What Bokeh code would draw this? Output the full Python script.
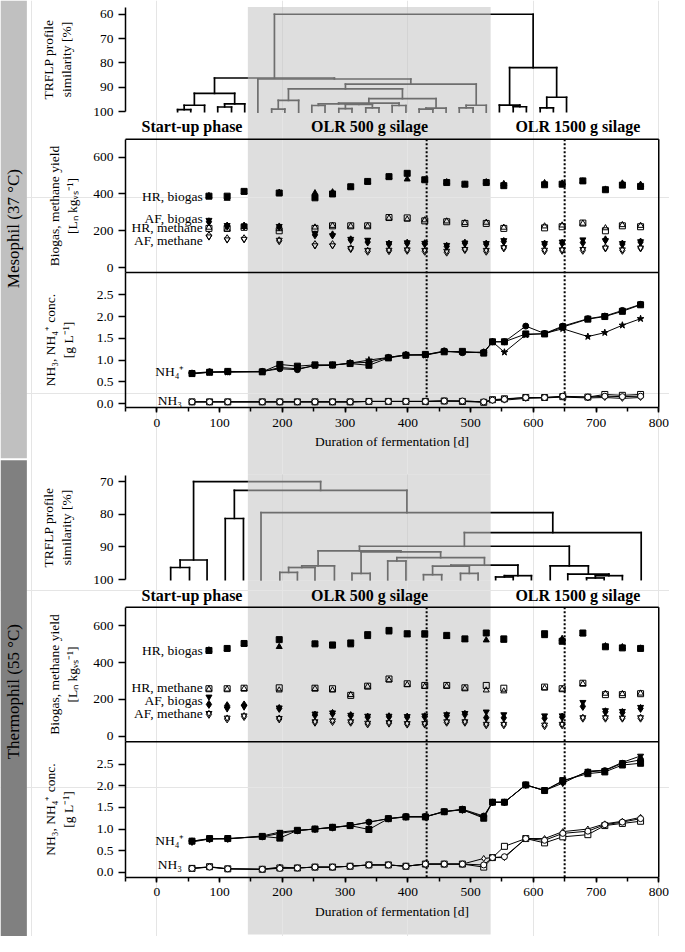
import math
from bokeh.plotting import figure
from bokeh.models import (Range1d, LinearAxis, FixedTicker, SingleIntervalTicker,
                          NumeralTickFormatter)
from bokeh.embed import file_html
from bokeh.resources import INLINE
from bokeh.core.properties import value

# ---------------------------------------------------------------- data
gas_days = [83, 112, 139, 195, 252, 280, 309, 336, 370, 399, 427, 462, 491, 525,
            553, 618, 646, 679, 715, 742, 771]

meso_hr_biogas_a = [388, 388, 414, 405, 379, 400, 439, 468, 494, 512, 477, 462, 453, 462, 445, 450, 453, 471, 423, 448, 441]
meso_hr_biogas_b = [390, 375, 410, 408, 405, 410, 437, 466, 492, 480, 475, 465, 452, 465, 455, 460, 458, 469, 425, 458, 451]
meso_hr_methane_a = [213, 213, 219, 200, 213, 227, 227, 227, 272, 270, 254, 249, 240, 240, 213, 216, 222, 242, 200, 227, 222]
meso_hr_methane_b = [218, 208, 222, 210, 219, 228, 225, 225, 268, 262, 258, 252, 243, 245, 218, 225, 230, 240, 215, 232, 228]
meso_af_biogas_a = [249, 226, 226, 221, 178, 178, 151, 139, 128, 133, 130, 116, 133, 128, 142, 128, 133, 136, 151, 128, 139]
meso_af_biogas_b = [258, 230, 228, 225, 185, 175, 155, 150, 132, 136, 133, 122, 135, 132, 148, 132, 140, 152, 148, 132, 142]
meso_af_methane_a = [173, 157, 157, 146, 125, 125, 103, 89, 92, 94, 89, 84, 98, 89, 107, 92, 94, 94, 107, 94, 107]
meso_af_methane_b = [168, 152, 155, 150, 120, 120, 105, 95, 96, 98, 95, 90, 100, 95, 110, 96, 98, 100, 108, 98, 108]

thermo_hr_biogas_a = [466, 477, 504, 525, 502, 496, 507, 552, 575, 557, 557, 548, 529, 561, 529, 557, 516, 561, 486, 480, 477]
thermo_hr_biogas_b = [468, 475, 500, 486, 500, 489, 495, 540, 565, 550, 548, 540, 525, 522, 520, 545, 530, 555, 490, 485, 478]
thermo_hr_methane_a = [258, 258, 261, 263, 261, 258, 222, 272, 311, 285, 276, 276, 263, 276, 261, 267, 258, 288, 226, 226, 231]
thermo_hr_methane_b = [255, 255, 258, 250, 258, 250, 225, 270, 305, 280, 270, 272, 260, 250, 245, 262, 255, 285, 232, 230, 233]
thermo_af_biogas_a = [173, 166, 170, 151, 115, 124, 112, 104, 106, 104, 106, 112, 119, 101, 100, 98, 104, 162, 133, 129, 151]
thermo_af_biogas_b = [214, 150, 160, 155, 122, 128, 115, 110, 110, 108, 112, 118, 125, 133, 118, 112, 112, 185, 140, 136, 158]
thermo_af_methane_a = [119, 94, 107, 94, 76, 80, 76, 67, 71, 66, 66, 76, 76, 62, 62, 57, 62, 98, 98, 98, 98]
thermo_af_methane_b = [125, 100, 112, 98, 80, 85, 80, 72, 75, 70, 70, 80, 80, 66, 66, 62, 66, 102, 102, 100, 102]

nh_days = [56, 84, 113, 168, 196, 224, 252, 280, 308, 338, 369, 397, 428, 458, 487,
           521, 535, 554, 588, 618, 647, 687, 714, 742, 771]

meso_nh4_r1 = [0.70, 0.73, 0.73, 0.74, 0.80, 0.78, 0.88, 0.88, 0.93, 0.95, 1.06, 1.12, 1.12, 1.21, 1.17, 1.18, 1.42, 1.42, 1.78, 1.61, 1.78, 1.95, 2.01, 2.14, 2.28]
meso_nh4_r2 = [0.69, 0.72, 0.74, 0.73, 0.90, 0.86, 0.89, 0.89, 0.92, 0.88, 1.05, 1.11, 1.13, 1.19, 1.20, 1.16, 1.42, 1.42, 1.60, 1.60, 1.76, 1.94, 2.00, 2.12, 2.27]
meso_nh4_r3 = [0.68, 0.72, 0.72, 0.73, 0.83, 0.80, 0.87, 0.88, 0.93, 1.00, 1.06, 1.12, 1.11, 1.20, 1.18, 1.18, 1.42, 1.18, 1.58, 1.61, 1.72, 1.54, 1.63, 1.80, 1.95]
meso_nh3_r1 = [0.04, 0.04, 0.04, 0.04, 0.04, 0.04, 0.04, 0.04, 0.04, 0.05, 0.05, 0.05, 0.05, 0.06, 0.06, 0.04, 0.08, 0.10, 0.14, 0.14, 0.17, 0.15, 0.17, 0.16, 0.17]
meso_nh3_r2 = [0.04, 0.04, 0.04, 0.04, 0.04, 0.04, 0.04, 0.04, 0.04, 0.05, 0.05, 0.05, 0.05, 0.06, 0.05, 0.03, 0.09, 0.11, 0.14, 0.14, 0.16, 0.15, 0.21, 0.19, 0.21]
meso_nh3_r3 = [0.04, 0.04, 0.04, 0.04, 0.04, 0.04, 0.04, 0.04, 0.04, 0.05, 0.05, 0.05, 0.05, 0.06, 0.06, 0.04, 0.07, 0.08, 0.12, 0.13, 0.15, 0.13, 0.14, 0.12, 0.14]

thermo_nh4_r1 = [0.72, 0.78, 0.78, 0.83, 0.79, 0.97, 1.00, 1.04, 1.08, 0.99, 1.24, 1.28, 1.28, 1.40, 1.45, 1.25, 1.62, 1.62, 2.02, 1.89, 2.12, 2.28, 2.32, 2.48, 2.52]
thermo_nh4_r2 = [0.72, 0.77, 0.78, 0.82, 0.90, 0.96, 1.00, 1.04, 1.08, 1.16, 1.24, 1.29, 1.29, 1.40, 1.46, 1.30, 1.62, 1.62, 2.02, 1.89, 2.10, 2.32, 2.35, 2.52, 2.60]
thermo_nh4_r3 = [0.70, 0.77, 0.77, 0.84, 0.93, 0.97, 1.00, 1.03, 1.08, 1.16, 1.24, 1.28, 1.28, 1.41, 1.44, 1.28, 1.62, 1.62, 2.02, 1.89, 2.06, 2.34, 2.36, 2.54, 2.69]
thermo_nh3_r1 = [0.09, 0.13, 0.08, 0.07, 0.10, 0.10, 0.12, 0.12, 0.14, 0.17, 0.17, 0.14, 0.19, 0.19, 0.19, 0.12, 0.34, 0.60, 0.78, 0.68, 0.82, 0.87, 1.08, 1.13, 1.18]
thermo_nh3_r2 = [0.09, 0.12, 0.08, 0.07, 0.09, 0.10, 0.12, 0.12, 0.14, 0.17, 0.17, 0.14, 0.19, 0.19, 0.19, 0.17, 0.34, 0.36, 0.78, 0.74, 0.90, 0.95, 1.10, 1.16, 1.24]
thermo_nh3_r3 = [0.09, 0.12, 0.08, 0.07, 0.12, 0.10, 0.12, 0.12, 0.14, 0.17, 0.17, 0.14, 0.19, 0.19, 0.19, 0.32, 0.34, 0.34, 0.78, 0.78, 0.94, 1.00, 1.12, 1.18, 1.27]

# dendrograms: leaf positions [d] and merges (child a, child b, similarity %)
meso_leaves = [33, 54, 76, 97, 119, 140, 161, 183, 204, 226, 247, 268, 290, 311, 333,
               354, 375, 397, 418, 440, 461, 482, 504, 525, 546, 568, 589, 611, 632, 653]
meso_merge_a = [0, 30, 3, 32, 31, 7, 35, 10, 12, 14, 16, 38, 37, 42, 18, 44, 43, 36, 21, 48, 47, 6, 34, 25, 24, 27, 55, 54, 52]
meso_merge_b = [1, 2, 4, 5, 33, 8, 9, 11, 13, 15, 17, 39, 41, 40, 19, 20, 45, 46, 22, 23, 49, 50, 51, 26, 53, 28, 29, 56, 57]
meso_merge_h = [99.2, 97.4, 98.1, 96.8, 92.5, 99.0, 95.4, 97.5, 98.8, 98.5, 97.5, 97.0, 96.8, 96.5,
                99.0, 98.6, 94.7, 90.7, 98.5, 97.4, 88.7, 86.6, 86.2, 98.0, 97.3, 98.5, 94.1, 81.9, 60.0]

thermo_leaves = [22, 52, 80, 109, 138, 166, 196, 224, 252, 283, 311, 340, 368, 397, 425,
                 454, 484, 512, 540, 568, 597, 627, 655, 685, 713, 742, 772]
thermo_merge_a = [0, 27, 3, 6, 30, 31, 10, 12, 14, 16, 35, 18, 38, 37, 34, 33, 32, 23, 44, 22, 21, 43, 48, 5, 29, 28]
thermo_merge_b = [1, 2, 4, 7, 8, 9, 11, 13, 15, 17, 36, 19, 20, 39, 40, 41, 42, 24, 25, 45, 46, 47, 26, 49, 50, 51]
thermo_merge_h = [96.3, 94.0, 81.3, 97.8, 96.3, 95.8, 98.1, 94.3, 98.5, 98.1, 95.9, 99.2, 98.8, 95.6,
                  93.3, 91.5, 91.2, 99.5, 98.8, 98.3, 95.8, 89.8, 85.6, 79.5, 72.7, 70.0]

phase_labels = ["Start-up phase", "OLR 500 g silage", "OLR 1500 g silage"]
phase_x = [56, 339, 671]
olr500_period = (145, 532)
marker_days = [430, 650]
series_names = ["HR, biogas", "HR, methane", "AF, biogas", "AF, methane"]

# ---------------------------------------------------------------- layout
REF_W, REF_H = 685, 952
W, H = 669, 936
FONT = "Liberation Serif"


def lin(p1, v1, p2, v2):
    k = (v2 - v1) / (p2 - p1)
    return lambda q: v1 + (q - p1) * k


fx = lin(128, -50, 674, 800)
X0, X1 = -50, 800

pan = {
    "dm": lin(14, 60, 113, 100),
    "gm": lin(271.7, 0, 159.3, 600),
    "nm": lin(410, 0, 299.3, 2.5),
    "dt": lin(489.3, 70, 589, 100),
    "gt": lin(748.3, 0, 636, 600),
    "nt": lin(886.7, 0, 776.7, 2.5),
}

p = figure(width=W, height=H, x_range=Range1d(fx(0), fx(REF_W)), y_range=Range1d(REF_H, 0),
           output_backend="svg", toolbar_location=None, min_border=0,
           x_axis_location=None, y_axis_location=None, title_location=None,
           outline_line_color=None)
p.extra_y_ranges = {k: Range1d(f(REF_H), f(0)) for k, f in pan.items()}
p.extra_x_ranges = {"page": Range1d(0, REF_W)}
p.background_fill_color = "white"
p.border_fill_color = "white"

SHADE = "#dedede"
# side bands
p.quad(left=[0, 0], right=[27, 27], top=[0, 467.5], bottom=[465.5, 952], x_range_name="page",
       fill_color=["#c0c0c0", "#808080"], line_color=None)
p.text(x=[13.5, 13.5], y=[232, 703], text=["Mesophil (37 °C)", "Thermophil (55 °C)"],
       x_range_name="page", angle=math.pi / 2, text_align="center", text_baseline="middle",
       text_font=value(FONT), text_font_size="17px", text_color="black")

# shaded OLR-500 period (under the data panels, over the dendrograms)
s0, s1 = olr500_period
p.quad(left=[s0, s0], right=[s1, s1], top=[113.5, 590], bottom=[482, 950],
       fill_color=SHADE, line_color=None, level="underlay")


def dendro(leaves, ma, mb, mh, rname):
    xs = list(leaves)
    hs = [100.0] * len(leaves)
    x0, y0, x1, y1 = [], [], [], []
    for a, b, h in zip(ma, mb, mh):
        for c in (a, b):
            x0.append(xs[c]); y0.append(hs[c]); x1.append(xs[c]); y1.append(h)
        x0.append(xs[a]); y0.append(h); x1.append(xs[b]); y1.append(h)
        xs.append((xs[a] + xs[b]) / 2)
        hs.append(h)
    p.segment(x0=x0, y0=y0, x1=x1, y1=y1, y_range_name=rname, line_color="black",
              line_width=1.7, line_cap="square")


dendro(meso_leaves, meso_merge_a, meso_merge_b, meso_merge_h, "dm")
dendro(thermo_leaves, thermo_merge_a, thermo_merge_b, thermo_merge_h, "dt")

p.quad(left=[s0, s0], right=[s1, s1], top=[6.5, 482], bottom=[113.5, 590],
       fill_color="#c4c4c4", fill_alpha=0.56, line_color=None, level="overlay")

for rname, f, ytxt in (("dm", pan["dm"], 128), ("dt", pan["dt"], 605)):
    p.text(x=phase_x, y=[f(ytxt)] * 3, text=phase_labels, y_range_name=rname,
           text_align="center", text_baseline="middle", text_font=value(FONT),
           text_font_size="16px", text_font_style="bold", text_color="black")

# frames of the data panels
for top, div, bot in ((141, 276.7, 414), (617, 754, 891.7)):
    p.segment(x0=[X0, X0, X1], y0=[top, div, top], x1=[X1, X1, X1], y1=[top, div, bot],
              line_color="black", line_width=1.5)
    p.segment(x0=marker_days, y0=[top] * 2, x1=marker_days, y1=[bot] * 2,
              line_color="black", line_width=2, line_dash="2 2")


def gas_panel(rname, hr_b, hr_m, af_b, af_m, label_vals):
    kw = dict(y_range_name=rname, size=6, line_color="black")
    p.scatter(gas_days, hr_b[1], marker="triangle", fill_color="black", **kw)
    p.scatter(gas_days, hr_b[0], marker="square", fill_color="black", **kw)
    p.scatter(gas_days, hr_m[0], marker="square", fill_color=None, **kw)
    p.scatter(gas_days, hr_m[1], marker="triangle", fill_color=None, **kw)
    p.scatter(gas_days, af_b[1], marker="inverted_triangle", fill_color="black", **kw)
    p.scatter(gas_days, af_b[0], marker="diamond", fill_color="black", size=8,
              y_range_name=rname, line_color="black")
    p.scatter(gas_days, af_m[0], marker="diamond", fill_color=None, size=8,
              y_range_name=rname, line_color="black")
    p.scatter(gas_days, af_m[1], marker="inverted_triangle", fill_color=None, **kw)
    p.text(x=[73] * 4, y=label_vals, text=series_names, y_range_name=rname,
           text_align="right", text_baseline="middle", text_font=value(FONT),
           text_font_size="13.5px", text_color="black")


gas_panel("gm", (meso_hr_biogas_a, meso_hr_biogas_b), (meso_hr_methane_a, meso_hr_methane_b),
          (meso_af_biogas_a, meso_af_biogas_b), (meso_af_methane_a, meso_af_methane_b),
          [388, 218, 268, 145])
gas_panel("gt", (thermo_hr_biogas_a, thermo_hr_biogas_b), (thermo_hr_methane_a, thermo_hr_methane_b),
          (thermo_af_biogas_a, thermo_af_biogas_b), (thermo_af_methane_a, thermo_af_methane_b),
          [466, 263, 192, 124])


def nh_panel(rname, nh4, nh3, markers3, markers4, lab_y):
    # series are given in drawing order: the last one ends up on top
    for vals, m in zip(nh3, markers3):
        p.line(nh_days, vals, y_range_name=rname, line_color="black", line_width=1)
        p.scatter(nh_days, vals, marker=m, size=6, y_range_name=rname,
                  line_color="black", fill_color="white")
    for vals, m in zip(nh4, markers4):
        p.line(nh_days, vals, y_range_name=rname, line_color="black", line_width=1)
        p.scatter(nh_days, vals, marker=m, size=7 if m == "star" else 6, y_range_name=rname,
                  line_color="black", fill_color="black")
    p.text(x=[44, 40], y=lab_y, text=["NH₄⁺", "NH₃"], y_range_name=rname,
           text_align="right", text_baseline="middle", text_font=value(FONT),
           text_font_size="13.5px", text_color="black")


nh_panel("nm", (meso_nh4_r2, meso_nh4_r3, meso_nh4_r1), (meso_nh3_r3, meso_nh3_r2, meso_nh3_r1),
         ["diamond", "square", "circle"], ["square", "star", "circle"], [0.74, 0.08])
nh_panel("nt", (thermo_nh4_r2, thermo_nh4_r3, thermo_nh4_r1), (thermo_nh3_r3, thermo_nh3_r1, thermo_nh3_r2),
         ["diamond", "square", "circle"], ["circle", "inverted_triangle", "square"], [0.74, 0.19])


# ---------------------------------------------------------------- axes
def style(ax, standoff):
    ax.axis_line_width = 1.5
    ax.axis_line_color = "black"
    ax.major_tick_line_width = 1.5
    ax.major_tick_line_color = "black"
    ax.major_tick_in = 0
    ax.major_label_text_font = FONT
    ax.major_label_text_font_size = "13.5px"
    ax.major_label_text_color = "black"
    ax.axis_label_text_font = FONT
    ax.axis_label_text_font_size = "13.5px"
    ax.axis_label_text_font_style = "normal"
    ax.axis_label_text_color = "black"
    ax.axis_label_standoff = standoff


def yaxis(rname, ptop, pbot, ticks, label, standoff, fmt=None):
    f = pan[rname]
    lo, hi = sorted([f(ptop), f(pbot)])
    ax = LinearAxis(y_range_name=rname, fixed_location=X0, bounds=(lo, hi),
                    ticker=FixedTicker(ticks=ticks), axis_label=label)
    style(ax, standoff)
    ax.major_tick_out = 7
    ax.major_label_standoff = 5
    ax.minor_tick_line_color = None
    if fmt:
        ax.formatter = NumeralTickFormatter(format=fmt)
    p.add_layout(ax, "left")


gas_label = "Biogas, methane yield\n[Lₙ kgᵥₛ⁻¹]"
nh_label = "NH₃, NH₄⁺ conc.\n[g L⁻¹]"
dend_label = "TRFLP profile\nsimilarity [%]"

yaxis("dm", 6.7, 113, [60, 70, 80, 90, 100], dend_label, 16)
yaxis("gm", 141, 276.7, [0, 200, 400, 600], gas_label, 10)
yaxis("nm", 276.7, 414, [0, 0.5, 1.0, 1.5, 2.0, 2.5], nh_label, 18, "0.0")
yaxis("dt", 482.7, 589, [70, 80, 90, 100], dend_label, 16)
yaxis("gt", 617, 754, [0, 200, 400, 600], gas_label, 10)
yaxis("nt", 754, 891.7, [0, 0.5, 1.0, 1.5, 2.0, 2.5], nh_label, 18, "0.0")

for rname, pbot in (("nm", 414), ("nt", 891.7)):
    ax = LinearAxis(y_range_name=rname, fixed_location=pan[rname](pbot), bounds=(X0, X1),
                    ticker=SingleIntervalTicker(interval=100, num_minor_ticks=2),
                    axis_label="Duration of fermentation [d]")
    style(ax, 4)
    ax.major_tick_out = 5
    ax.minor_tick_out = 4
    ax.minor_tick_in = 0
    ax.minor_tick_line_width = 1.5
    ax.minor_tick_line_color = "black"
    ax.major_label_standoff = 6
    p.add_layout(ax, "below")

open("out.html", "w").write(file_html(p, INLINE))
